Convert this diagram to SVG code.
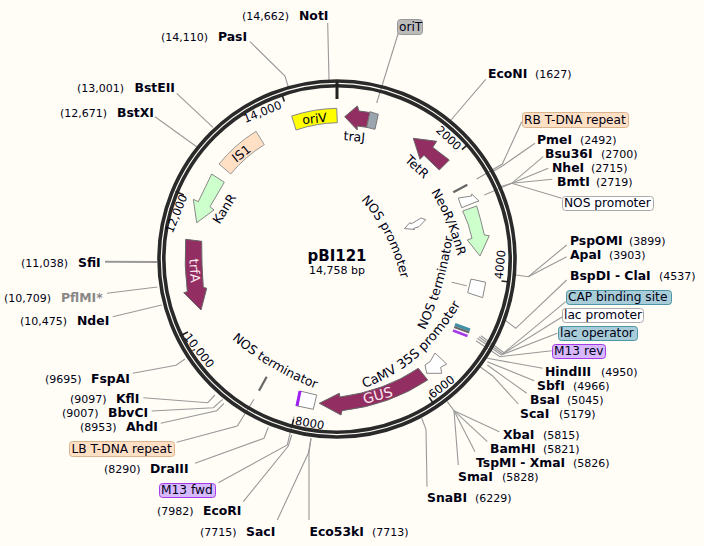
<svg xmlns="http://www.w3.org/2000/svg" width="704" height="546" viewBox="0 0 704 546">
<style>
text{font-family:"DejaVu Sans","Liberation Sans",sans-serif;fill:#000014}
.n{font-size:12.4px;font-weight:bold}
.p{font-size:11px}
.g{fill:#888}
.l{font-size:12.2px}
.t{font-size:11.5px}
.f{font-size:12.5px}
.w{fill:#fde8ef;font-size:13px}
.c{fill:none;stroke:#999;stroke-width:1.1}
.r{fill:none;stroke:#2a2a2a;stroke-width:3.6}
.k{stroke:#222;stroke-width:1.6}
.pu{fill:#922e62}
.gr{fill:#ccffcc}
.wh{fill:#fff}
.b{rx:3px;ry:3px}
</style>
<rect width="704" height="546" fill="#fffdf6"/>
<g id="connectors">
<path class="c" d="M327.7 23L329 80"/>
<path class="c" d="M250 41.7L285 76L288.3 87"/>
<path class="c" d="M398.3 33L376.7 103"/>
<path class="c" d="M176.7 93.3L213 127.3"/>
<path class="c" d="M155 116.7L196.7 146.7"/>
<path class="c" d="M105 261.7L157 262" style="stroke-width:2"/>
<path class="c" d="M107 293.3L157.3 287"/>
<path class="c" d="M112.7 316.7L161.7 305"/>
<path class="c" d="M132.7 373.3L176 365.3L185 359"/>
<path class="c" d="M143.3 397.7L207.7 402.7L215 395"/>
<path class="c" d="M151.7 411L213.3 407.7L222.7 399.3"/>
<path class="c" d="M160.7 423.3L216.7 410.7L224 403.3"/>
<path class="c" d="M176.7 442.3L237.3 426L254 399.3"/>
<path class="c" d="M195 463.3L264 438.3L268.3 427.3"/>
<path class="c" d="M218.3 482.7L287.3 445L294 416.7"/>
<path class="c" d="M243.3 501.7L288.3 446L291.7 435"/>
<path class="c" d="M277.3 520L308.3 453.3L311 438.3"/>
<path class="c" d="M309 520L309 453L311 438.3"/>
<path class="c" d="M427 486.7L426 429.3L421.7 418.3"/>
<path class="c" d="M458.3 465L454 410.7L447.3 401.7"/>
<path class="c" d="M475 451.7L454 410.7"/>
<path class="c" d="M487.3 441.7L454 410.7"/>
<path class="c" d="M499.3 431.7L454 410.7"/>
<path class="c" d="M518.3 404L492.7 376L480 366.7"/>
<path class="c" d="M526.7 393.3L487.3 365"/>
<path class="c" d="M534.3 380.7L487.3 361.7"/>
<path class="c" d="M542.7 368.3L487.3 358.3"/>
<path class="c" d="M551.7 350.7L500 356.7L476 340.7"/>
<path class="c" d="M557.3 333.3L501.3 355L477.3 338.3"/>
<path class="c" d="M562 317L502.7 354L479 336.7"/>
<path class="c" d="M565.7 301.7L504 352.7L481 335.7"/>
<path class="c" d="M566.7 280L515.7 328.3L505 320"/>
<path class="c" d="M566.7 245L528.3 276.7L515.7 275"/>
<path class="c" d="M566.7 256.7L528.3 276.7"/>
<path class="c" d="M451 120L485.7 79.3"/>
<path class="c" d="M521.7 121.7L502.3 164L476.7 179"/>
<path class="c" d="M535 143.3L502.3 166L492 172"/>
<path class="c" d="M543.3 156.7L511.7 183.3L500 186.7"/>
<path class="c" d="M548.3 168.3L511.7 183.3"/>
<path class="c" d="M552.3 179.3L511.7 183.3"/>
<path class="c" d="M561.7 198.3L511.7 183.3L484.3 195"/>
<path class="c" d="M451.7 282.3L466.7 285.7"/>
</g>
<g id="backbone">
<circle class="r" cx="337" cy="259" r="178"/>
<circle class="r" cx="337" cy="259" r="173.2"/>
<line x1="337" y1="82" x2="337" y2="99" stroke="#222" stroke-width="3"/>
<line class="k" x1="337" y1="93" x2="337" y2="87" transform="rotate(-18.5 337 259)"/>
<line class="k" x1="337" y1="93" x2="337" y2="84" transform="rotate(-67.3 337 259)"/>
<line class="k" x1="337" y1="93" x2="337" y2="84" transform="rotate(-116.1 337 259)"/>
<line class="k" x1="337" y1="93" x2="337" y2="85" transform="rotate(-164.9 337 259)"/>
<line class="k" x1="337" y1="93" x2="337" y2="85" transform="rotate(146.3 337 259)"/>
<line class="k" x1="337" y1="93" x2="337" y2="85" transform="rotate(97.6 337 259)"/>
<line class="k" x1="337" y1="93" x2="337" y2="85" transform="rotate(48.8 337 259)"/>
<text class="t" text-anchor="middle" transform="translate(264 115.5) rotate(-22)">14,000</text>
<text class="t" text-anchor="middle" transform="translate(180 215) rotate(-68)">12,000</text>
<text class="t" text-anchor="middle" transform="translate(196 353) rotate(52)">10,000</text>
<text class="t" text-anchor="middle" transform="translate(309 427) rotate(10)">8000</text>
<text class="t" text-anchor="middle" transform="translate(444 390) rotate(-38)">6000</text>
<text class="t" text-anchor="middle" transform="translate(504 265) rotate(-84)">4000</text>
<text class="t" text-anchor="middle" transform="translate(446 141) rotate(43)">2000</text>
</g>
<g id="title">
<text x="337" y="261" text-anchor="middle" style="font-size:15px;font-weight:bold">pBI121</text>
<text x="337" y="274" text-anchor="middle" class="p">14,758 bp</text>
</g>
<g id="oriV"><path d="M291.7 116A152 152 0 0 1 336.7 108.3L337.3 122.7A137 137 0 0 0 296 130Z" fill="#ffff00" stroke="#888"/><text class="f" text-anchor="middle" transform="translate(315 123) rotate(-6)">oriV</text></g>
<g id="IS1"><path d="M256 131.3L264.3 144.7A135 135 0 0 0 230.7 174L219 164A150 150 0 0 1 256 131.3Z" fill="#ffe0c4" stroke="#999"/><text class="f" text-anchor="middle" transform="translate(244 157) rotate(-38)">IS1</text></g>
<g id="KanR"><path class="gr" stroke="#888" d="M211.7 174L224.3 182.3L210 206.7L214 210L196.7 222.7L193.3 199.3L198.3 201.7Z"/><text class="f" text-anchor="middle" transform="translate(228 211) rotate(-58)">KanR</text></g>
<g id="trfA"><path class="pu" stroke="#666" d="M185.7 239.3L201.7 241.3Q201.5 265 203.3 287.3L206.7 288.3L201 310L183.7 292.7L187.3 291.7Q184 265 185.7 239.3Z"/><text class="w" text-anchor="middle" transform="translate(190 271) rotate(86)">trfA</text></g>
<g id="traJ"><path class="pu" stroke="#666" d="M344.7 116.7L357.3 106L359 111L370 112.5L367 127.3L357 126L357.3 130Z"/><path d="M370 111.7L378.3 114.3L375 129.3L366.7 127.3Z" fill="#9aa5b0" stroke="#777"/><text class="f" text-anchor="middle" transform="translate(354 141) rotate(5)">traJ</text></g>
<g id="TetR"><path class="pu" stroke="#666" d="M413.3 138.3L436.7 141.3L432.7 147.3L449.3 160L439.3 170L424 155.3L420 159.3Z"/><text class="f" text-anchor="middle" transform="translate(414 170) rotate(43)">TetR</text></g>
<g id="RB-T-DNA-repeat"><line x1="453.3" y1="192.3" x2="467.3" y2="184.7" stroke="#666" stroke-width="2.2"/></g>
<g id="NOS-promoter-1"><path class="wh" stroke="#888" d="M458.3 198L471.7 196L471.7 194L479 201L475 202.3L461.7 207.7Z"/></g>
<g id="NeoR-KanR"><path class="gr" stroke="#888" d="M462.7 211L476.7 206Q481 220 484.3 235L489.3 235.7L480 256L467.3 240L472 238.3Q469 224 462.7 211Z"/><path id="pa" d="M431 192Q450 222 459 262" fill="none"/><text class="f"><textPath href="#pa">NeoR/KanR</textPath></text></g>
<g id="NOS-promoter-2"><path class="wh" stroke="#888" d="M404.5 228.5L410 222.5L411 224L421 218L425.7 219.7L419 226.7L413.5 228.5L414.5 229.5Z"/><path id="pb" d="M361 200Q392 234 402 284" fill="none"/><text class="f"><textPath href="#pb">NOS promoter</textPath></text></g>
<g id="NOS-terminator-1"><path class="wh" stroke="#888" d="M471 279L485.7 282.3L482.7 297.7L467.7 292.7Z"/><path id="pc" d="M425 330Q444 292 453 236" fill="none"/><text class="f"><textPath href="#pc">NOS terminator</textPath></text></g>
<g id="lac-features"><line x1="455" y1="324.5" x2="470" y2="330" stroke="#3f8fa5" stroke-width="3"/><line x1="454.2" y1="327" x2="469.2" y2="332.5" stroke="#666" stroke-width="2"/><line x1="453.6" y1="328.8" x2="468.6" y2="334.3" stroke="#fff" stroke-width="1" stroke-dasharray="2 1"/><line x1="453" y1="330.5" x2="467.5" y2="336" stroke="#a33be8" stroke-width="2.5"/></g>
<g id="CaMV-35S"><path class="wh" stroke="#888" d="M435 353L446.7 364L440.7 367.3L441.7 373.3L426.7 373.3L425 365L430 361.7Z"/><path id="pd" d="M364 388Q428 366 466 294" fill="none"/><text class="f" style="font-size:13px"><textPath href="#pd">CaMV 35S promoter</textPath></text></g>
<g id="GUS"><path class="pu" stroke="#666" d="M319.3 403.3L339.3 393.3L340 397Q385 391 418.3 368.3L427.7 380Q390 405 342 410.7L341 415Z"/><text class="w" text-anchor="middle" transform="translate(379 400) rotate(-15)" style="font-size:14px">GUS</text></g>
<g id="NOS-terminator-2"><path class="wh" stroke="#888" d="M300 391L316.7 395L313.3 409.3L296 405.7Z"/><line x1="300" y1="391" x2="297" y2="406" stroke="#a020f0" stroke-width="3"/><line x1="266.7" y1="376.7" x2="259" y2="390.7" stroke="#666" stroke-width="2.2"/><path id="pe" d="M232 339Q270 372 322 391" fill="none"/><text class="f"><textPath href="#pe">NOS terminator</textPath></text></g>
<g id="NotI"><text class="n" x="299" y="20">NotI</text><text class="p" x="242" y="20">(14,662)</text></g>
<g id="PasI"><text class="n" x="218" y="41">PasI</text><text class="p" x="161" y="41">(14,110)</text></g>
<g id="BstEII"><text class="n" x="134.5" y="92">BstEII</text><text class="p" x="77" y="92">(13,001)</text></g>
<g id="BstXI"><text class="n" x="117" y="117">BstXI</text><text class="p" x="60" y="117">(12,671)</text></g>
<g id="SfiI"><text class="n" x="78" y="267">SfiI</text><text class="p" x="21" y="267">(11,038)</text></g>
<g id="PflMI"><text class="n g" x="61" y="302">PflMI*</text><text class="p" x="4" y="302">(10,709)</text></g>
<g id="NdeI"><text class="n" x="77" y="325">NdeI</text><text class="p" x="20" y="325">(10,475)</text></g>
<g id="FspAI"><text class="n" x="91" y="383">FspAI</text><text class="p" x="45" y="383">(9695)</text></g>
<g id="KflI"><text class="n" x="116" y="403">KflI</text><text class="p" x="70" y="403">(9097)</text></g>
<g id="BbvCI"><text class="n" x="108" y="417">BbvCI</text><text class="p" x="62" y="417">(9007)</text></g>
<g id="AhdI"><text class="n" x="126" y="431">AhdI</text><text class="p" x="80" y="431">(8953)</text></g>
<g id="LB"><rect class="b" x="69.5" y="441.5" width="105" height="15" fill="#ffe0c4" stroke="#d9b48f"/><text class="l" x="71.5" y="453">LB T-DNA repeat</text></g>
<g id="DraIII"><text class="n" x="150" y="473">DraIII</text><text class="p" x="104" y="473">(8290)</text></g>
<g id="M13fwd"><rect class="b" x="159.5" y="483.5" width="56" height="14" fill="#d8b9ff" stroke="#a33be8"/><text class="l" x="161" y="494">M13 fwd</text></g>
<g id="EcoRI"><text class="n" x="203" y="515">EcoRI</text><text class="p" x="157" y="515">(7982)</text></g>
<g id="SacI"><text class="n" x="246" y="536">SacI</text><text class="p" x="200" y="536">(7715)</text></g>
<g id="Eco53kI"><text class="n" x="309.5" y="536">Eco53kI</text><text class="p" x="372" y="536">(7713)</text></g>
<g id="SnaBI"><text class="n" x="427" y="502">SnaBI</text><text class="p" x="475" y="502">(6229)</text></g>
<g id="SmaI"><text class="n" x="458" y="481">SmaI</text><text class="p" x="502" y="481">(5828)</text></g>
<g id="TspMI"><text class="n" x="476" y="467">TspMI - XmaI</text><text class="p" x="573" y="467">(5826)</text></g>
<g id="BamHI"><text class="n" x="490" y="453">BamHI</text><text class="p" x="543" y="453">(5821)</text></g>
<g id="XbaI"><text class="n" x="503" y="439">XbaI</text><text class="p" x="543" y="439">(5815)</text></g>
<g id="ScaI"><text class="n" x="520" y="418">ScaI</text><text class="p" x="559" y="418">(5179)</text></g>
<g id="BsaI"><text class="n" x="530" y="404">BsaI</text><text class="p" x="567" y="404">(5045)</text></g>
<g id="SbfI"><text class="n" x="537" y="390">SbfI</text><text class="p" x="573" y="390">(4966)</text></g>
<g id="HindIII"><text class="n" x="545" y="376">HindIII</text><text class="p" x="601" y="376">(4950)</text></g>
<g id="M13rev"><rect class="b" x="552.5" y="344.5" width="53" height="14" fill="#d8b9ff" stroke="#a33be8"/><text class="l" x="554" y="355">M13 rev</text></g>
<g id="lac-operator"><rect class="b" x="558.5" y="326.5" width="79" height="14" fill="#a9cdd8" stroke="#4d95a7"/><text class="l" x="560" y="337">lac operator</text></g>
<g id="lac-promoter"><rect class="b" x="562.5" y="308.5" width="81" height="14" fill="#fff" stroke="#aaa"/><text class="l" x="564" y="319">lac promoter</text></g>
<g id="CAP"><rect class="b" x="566.5" y="290.5" width="105" height="14" fill="#a9cdd8" stroke="#4d95a7"/><text class="l" x="568" y="301">CAP binding site</text></g>
<g id="BspDI"><text class="n" x="570" y="280">BspDI - ClaI</text><text class="p" x="659" y="280">(4537)</text></g>
<g id="ApaI"><text class="n" x="570" y="259">ApaI</text><text class="p" x="609" y="259">(3903)</text></g>
<g id="PspOMI"><text class="n" x="570" y="245">PspOMI</text><text class="p" x="629" y="245">(3899)</text></g>
<g id="NOS-promoter-label"><rect class="b" x="562.5" y="196.5" width="91" height="14" fill="#fff" stroke="#aaa"/><text class="l" x="564" y="207">NOS promoter</text></g>
<g id="BmtI"><text class="n" x="557" y="186">BmtI</text><text class="p" x="596" y="186">(2719)</text></g>
<g id="NheI"><text class="n" x="552" y="172">NheI</text><text class="p" x="591" y="172">(2715)</text></g>
<g id="Bsu36I"><text class="n" x="545" y="158">Bsu36I</text><text class="p" x="601" y="158">(2700)</text></g>
<g id="PmeI"><text class="n" x="537" y="144">PmeI</text><text class="p" x="580" y="144">(2492)</text></g>
<g id="RB"><rect class="b" x="522.5" y="112.5" width="106" height="15" fill="#ffe0c4" stroke="#d9b48f"/><text class="l" x="524" y="124">RB T-DNA repeat</text></g>
<g id="EcoNI"><text class="n" x="488" y="78">EcoNI</text><text class="p" x="535" y="78">(1627)</text></g>
<g id="oriT"><rect class="b" x="397.5" y="19.5" width="25" height="15" fill="#bbb" stroke="#999"/><text class="l" x="399" y="31">oriT</text></g>
</svg>
